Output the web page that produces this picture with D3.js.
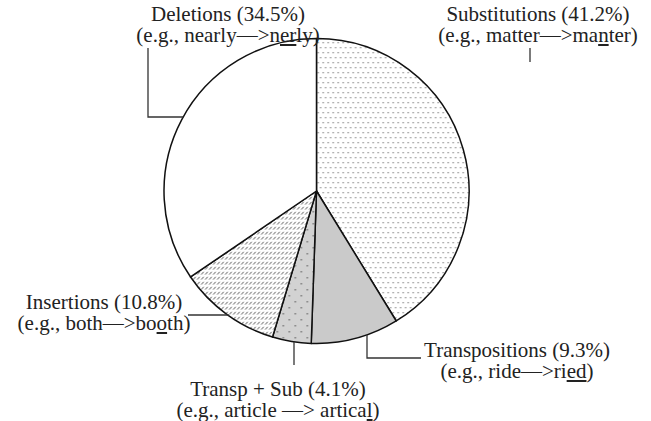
<!DOCTYPE html>
<html><head><meta charset="utf-8">
<script src="https://cdn.jsdelivr.net/npm/d3@7"></script>
<style>
html,body{margin:0;padding:0;background:#fff;}
#wrap{position:relative;width:651px;height:421px;}
svg{display:block;position:absolute;left:0;top:0;}
.lbl{position:absolute;white-space:nowrap;text-align:center;transform:translateX(-50%);
  font-family:Tinos,"Liberation Serif","Times New Roman",FreeSerif,serif;font-size:21px;line-height:21px;color:#222;}
.lbl .u{text-decoration:underline;}
</style></head>
<body>
<div id="wrap"><svg id="chart" width="651" height="421"></svg></div>
<script>
// ---- data ----
const categories = ["Substitutions", "Transpositions", "Transp + Sub", "Insertions", "Deletions"];
const percents = [41.2, 9.3, 4.1, 10.8, 34.5];
// example lines: [plain text, underlined text, plain text]
const examples = [
  ["(e.g., matter—>ma", "n", "ter)"],
  ["(e.g., ride—>ri", "ed", ")"],
  ["(e.g., article —> artica", "l", ")"],
  ["(e.g., both—>bo", "o", "th)"],
  ["(e.g., nearly—>n", "er", "ly)"]
];

// ---- layout ----
const cx = 316.5, cy = 191, R = 152.5;
const fills = ["url(#dots)", "#cacaca", "url(#dotsGray)", "url(#hatch)", "#ffffff"];
// label centre x and baseline of first line
const labelPos = [
  {x: 538, y: 21},
  {x: 517, y: 357},
  {x: 278, y: 396},
  {x: 104, y: 309},
  {x: 228, y: 21}
];

const svg = d3.select("#chart");
const defs = svg.append("defs");

const p1 = defs.append("pattern").attr("id","dots").attr("patternUnits","userSpaceOnUse")
  .attr("width",10).attr("height",10);
p1.append("rect").attr("width",10).attr("height",10).attr("fill","#fff");
[[1,1],[6,1],[3.5,6],[8.5,6]].forEach(([x,y])=>p1.append("rect").attr("x",x).attr("y",y).attr("width",1.3).attr("height",1.3).attr("fill","#888"));

const p2 = defs.append("pattern").attr("id","dotsGray").attr("patternUnits","userSpaceOnUse")
  .attr("width",12).attr("height",12);
p2.append("rect").attr("width",12).attr("height",12).attr("fill","#d2d2d2");
[[2,2],[8,8]].forEach(([x,y])=>p2.append("rect").attr("x",x).attr("y",y).attr("width",1.5).attr("height",1.5).attr("fill","#777"));

const p3 = defs.append("pattern").attr("id","hatch").attr("patternUnits","userSpaceOnUse")
  .attr("width",4).attr("height",5);
p3.append("rect").attr("width",4).attr("height",5).attr("fill","#fff");
p3.append("line").attr("x1",0.8).attr("y1",3.6).attr("x2",3.2).attr("y2",0.8).attr("stroke","#555").attr("stroke-width",1);

const pie = d3.pie().sort(null).value(d => d)(percents);
const arc = d3.arc().innerRadius(0).outerRadius(R);

const g = svg.append("g").attr("transform", `translate(${cx},${cy})`);
g.selectAll("path.slice").data(pie).join("path")
  .attr("class","slice")
  .attr("d", arc)
  .attr("fill", (d,i) => fills[i])
  .attr("stroke", "#111")
  .attr("stroke-width", 1.5)
  .attr("stroke-linejoin","round");

const arcYAt = (x, sign) => cy + sign*Math.sqrt(R*R - (x-cx)*(x-cx));
const arcXAt = (y, sign) => cx + sign*Math.sqrt(R*R - (y-cy)*(y-cy));
const leaders = [
  [[530, 48], [530, 62]],
  [[367, arcYAt(367, 1)], [367, 358], [421, 358]],
  [[294, arcYAt(294, 1)], [294, 365]],
  [[188, 315], [arcXAt(315, -1)+1, 315]],
  [[148, 48], [148, 117], [arcXAt(117, -1), 117]]
];
svg.selectAll("path.leader").data(leaders).join("path")
  .attr("class","leader")
  .attr("d", d => d3.line()(d))
  .attr("fill","none").attr("stroke","#333").attr("stroke-width",1.3);

// labels as HTML text positioned over the chart
const wrap = d3.select("#wrap");
labelPos.forEach((p, i) => {
  const div = wrap.append("div").attr("class","lbl")
    .style("left", p.x + "px").style("top", (p.y - 17.5) + "px");
  div.append("div").text(`${categories[i]} (${percents[i].toFixed(1)}%)`);
  const ex = examples[i];
  const l2 = div.append("div");
  l2.append("span").text(ex[0]);
  l2.append("span").attr("class","u").text(ex[1]);
  l2.append("span").text(ex[2]);
});
</script>
</body></html>
